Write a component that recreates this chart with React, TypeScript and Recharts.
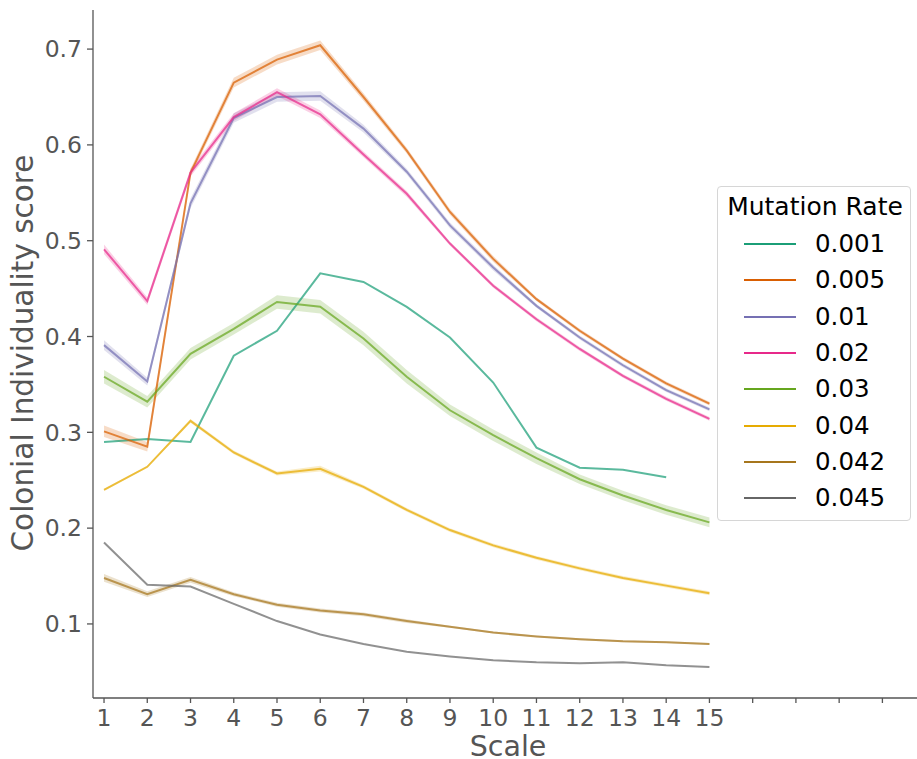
import React from 'react';
import { ComposedChart, Line, Area, XAxis, YAxis, Label } from 'recharts';

const scales = [1, 2, 3, 4, 5, 6, 7, 8, 9, 10, 11, 12, 13, 14, 15];
const xTicks = [1, 2, 3, 4, 5, 6, 7, 8, 9, 10, 11, 12, 13, 14, 15, 16, 17, 18, 19];
const yTicks = [0.1, 0.2, 0.3, 0.4, 0.5, 0.6, 0.7];
const rateLabels = ['0.001', '0.005', '0.01', '0.02', '0.03', '0.04', '0.042', '0.045'];
const colors = ['#1b9e77', '#d95f02', '#7570b3', '#e7298a', '#66a61e', '#e6ab02', '#a6761d', '#666666'];

const rate0001 = [0.290, 0.293, 0.290, 0.380, 0.406, 0.466, 0.457, 0.431, 0.399, 0.352, 0.284, 0.263, 0.261, 0.253];
const rate0005 = [0.301, 0.285, 0.571, 0.665, 0.689, 0.704, 0.650, 0.594, 0.530, 0.481, 0.439, 0.406, 0.377, 0.351, 0.330];
const rate001 = [0.391, 0.353, 0.539, 0.628, 0.650, 0.651, 0.617, 0.572, 0.516, 0.472, 0.432, 0.399, 0.370, 0.344, 0.324];
const rate002 = [0.491, 0.437, 0.571, 0.629, 0.655, 0.632, 0.590, 0.549, 0.497, 0.453, 0.418, 0.387, 0.359, 0.335, 0.314];
const rate003 = [0.358, 0.332, 0.382, 0.408, 0.436, 0.431, 0.398, 0.358, 0.323, 0.297, 0.273, 0.251, 0.234, 0.219, 0.206];
const rate004 = [0.240, 0.264, 0.312, 0.279, 0.257, 0.262, 0.243, 0.219, 0.198, 0.182, 0.169, 0.158, 0.148, 0.140, 0.132];
const rate0042 = [0.148, 0.131, 0.146, 0.131, 0.120, 0.114, 0.110, 0.103, 0.097, 0.091, 0.087, 0.084, 0.082, 0.081, 0.079];
const rate0045 = [0.185, 0.141, 0.139, 0.121, 0.103, 0.089, 0.079, 0.071, 0.066, 0.062, 0.060, 0.059, 0.060, 0.057, 0.055];

// confidence-band half widths (estimated)
const ci0005 = [0.006, 0.005, 0.004, 0.005, 0.005, 0.005, 0.004, 0.003, 0.003, 0.003, 0.002, 0.002, 0.002, 0.002, 0.002];
const ci001 = [0.005, 0.004, 0.005, 0.005, 0.005, 0.005, 0.004, 0.003, 0.003, 0.003, 0.002, 0.002, 0.002, 0.002, 0.002];
const ci002 = [0.005, 0.004, 0.004, 0.004, 0.004, 0.004, 0.003, 0.003, 0.002, 0.002, 0.002, 0.002, 0.002, 0.002, 0.002];
const ci003 = [0.007, 0.006, 0.006, 0.006, 0.007, 0.007, 0.007, 0.007, 0.006, 0.006, 0.006, 0.005, 0.005, 0.005, 0.005];
const ci004 = [0.001, 0.001, 0.002, 0.002, 0.002, 0.003, 0.002, 0.002, 0.002, 0.002, 0.002, 0.002, 0.002, 0.002, 0.002];
const ci0042 = [0.004, 0.003, 0.003, 0.002, 0.002, 0.002, 0.002, 0.002, 0.001, 0.001, 0.001, 0.001, 0.001, 0.001, 0.001];

const seriesValues = [rate0001, rate0005, rate001, rate002, rate003, rate004, rate0042, rate0045];
const seriesCI = [null, ci0005, ci001, ci002, ci003, ci004, ci0042, null];

const data = scales.map((s, i) => {
  const row: any = { scale: s };
  seriesValues.forEach((vals, k) => {
    const v = vals[i];
    row['s' + k] = v === undefined ? null : v;
    const ci = seriesCI[k];
    if (ci && v !== undefined) row['b' + k] = [v - ci[i], v + ci[i]];
  });
  return row;
});

const FONT = 'DejaVu Sans';
const AXIS = '#555555';

export default function App() {
  return (
    <div style={{ position: 'absolute', left: 0, top: 0, width: 917, height: 759, background: '#fff', fontFamily: FONT }}>
      <ComposedChart width={917} height={759} data={data} margin={{ top: 10, right: 0, bottom: 0, left: 0 }}>
        <XAxis
          dataKey="scale"
          type="number"
          domain={[0.745, 19.8]}
          allowDataOverflow
          ticks={xTicks}
          tickFormatter={(v: number) => (v <= 15 ? String(v) : '')}
          height={61}
          tickSize={5}
          tickMargin={6}
          stroke={AXIS}
          strokeWidth={1.3}
          tick={{ fontSize: 23.5, fill: AXIS, fontFamily: FONT }}
        >
          <Label
            content={(p: any) => {
              const vb = p.viewBox || { x: 93, width: 824 };
              return (
                <text x={vb.x + vb.width / 2 + 3} y={756} textAnchor="middle" fontSize={28.5} fill={AXIS} fontFamily={FONT}>
                  Scale
                </text>
              );
            }}
          />
        </XAxis>
        <YAxis
          type="number"
          domain={[0.0227, 0.7408]}
          allowDataOverflow
          ticks={yTicks}
          tickFormatter={(v: number) => v.toFixed(1)}
          width={93}
          tickSize={6}
          tickMargin={5}
          stroke={AXIS}
          strokeWidth={1.3}
          tick={{ fontSize: 23.5, fill: AXIS, fontFamily: FONT }}
        >
          <Label
            content={() => (
              <text
                x={33}
                y={353}
                transform="rotate(-90, 33, 353)"
                textAnchor="middle"
                fontSize={29.5}
                fill={AXIS}
                fontFamily={FONT}
              >
                Colonial Individuality score
              </text>
            )}
          />
        </YAxis>
        {seriesCI.map((ci, k) =>
          ci ? (
            <Area
              key={'b' + k}
              type="linear"
              dataKey={'b' + k}
              stroke="none"
              fill={colors[k]}
              fillOpacity={0.22}
              isAnimationActive={false}
              connectNulls={false}
              activeDot={false}
            />
          ) : null
        )}
        {seriesValues.map((_, k) => (
          <Line
            key={'s' + k}
            type="linear"
            dataKey={'s' + k}
            stroke={colors[k]}
            strokeOpacity={0.72}
            strokeWidth={2}
            dot={false}
            activeDot={false}
            isAnimationActive={false}
            connectNulls={false}
          />
        ))}
      </ComposedChart>
      <div
        style={{
          position: 'absolute',
          left: 717,
          top: 186,
          width: 194,
          height: 335,
          boxSizing: 'border-box',
          border: '1px solid #d6d6d6',
          borderRadius: 4,
          background: 'rgba(255,255,255,0.85)',
          fontFamily: FONT,
          color: '#000',
        }}
      >
        <div style={{ position: 'absolute', left: 0, width: 194, top: 6, textAlign: 'center', fontSize: 25, lineHeight: '28px', whiteSpace: 'nowrap' }}>
          Mutation Rate
        </div>
        {rateLabels.map((lab, k) => (
          <div key={lab} style={{ position: 'absolute', left: 0, top: 43 + k * 36.3, height: 28, width: 194 }}>
            <div style={{ position: 'absolute', left: 26, top: 13, width: 52, height: 2, background: colors[k] }} />
            <div style={{ position: 'absolute', left: 97, top: 0, fontSize: 24.5, lineHeight: '28px' }}>{lab}</div>
          </div>
        ))}
      </div>
    </div>
  );
}
